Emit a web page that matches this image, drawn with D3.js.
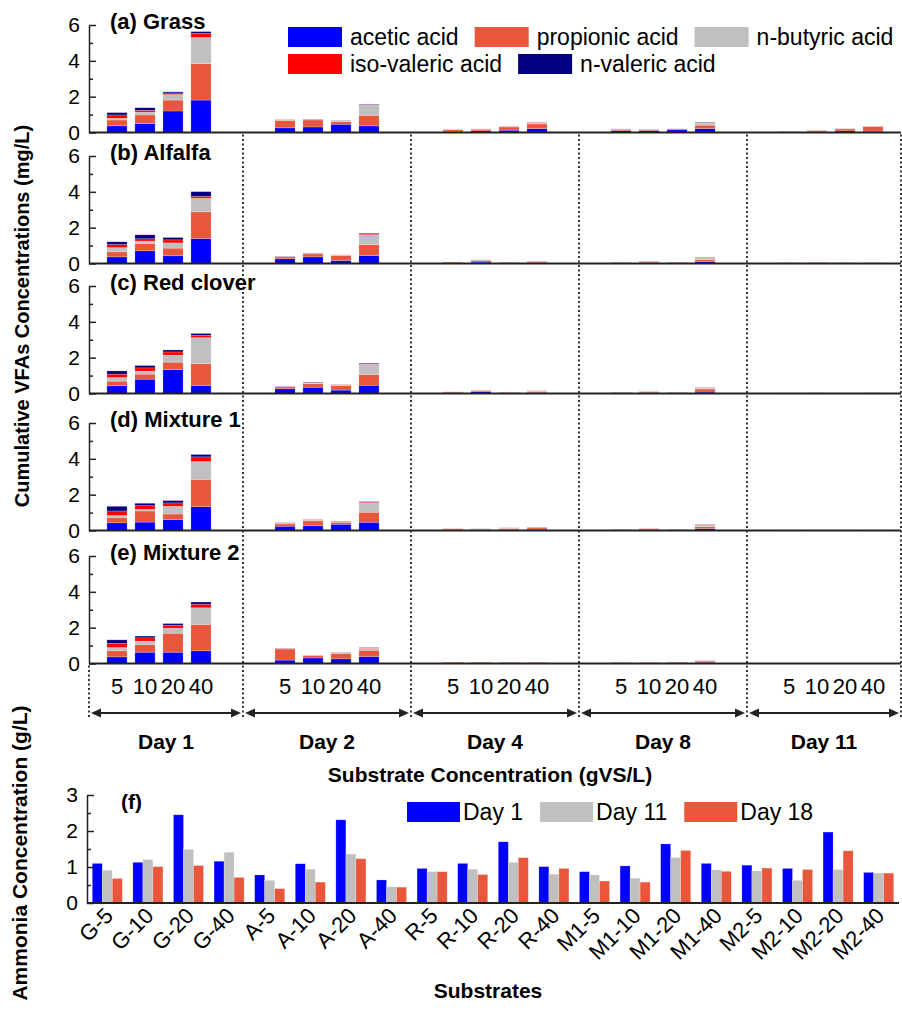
<!DOCTYPE html>
<html lang="en">
<head>
    <meta charset="UTF-8">
    <title>Cumulative VFAs and Ammonia</title>
    <script src="https://d3js.org/d3.v7.min.js"></script>
    <style>
        body {
            margin: 0;
            padding: 0;
            background-color: #ffffff;
        }
        svg text {
            font-family: 'Liberation Sans', Arial, sans-serif;
            fill: #000;
        }
        .axis path, .axis line {
            stroke: #222;
            stroke-width: 1.5;
        }
        .axis text {
            font-size: 21px;
        }
        .bold {
            font-weight: bold;
        }
    </style>
</head>
<body>
    <div id="chart"></div>

    <script>
        // categories
        const days = ['Day 1', 'Day 2', 'Day 4', 'Day 8', 'Day 11'];
        const loads = ['5', '10', '20', '40'];
        const acids = ['acetic acid', 'propionic acid', 'n-butyric acid', 'iso-valeric acid', 'n-valeric acid'];
        const acidColors = ['#0000ff', '#e8573c', '#c0c0c0', '#ff0000', '#000080'];
        const panelTitles = ['(a) Grass', '(b) Alfalfa', '(c) Red clover', '(d) Mixture 1', '(e) Mixture 2'];

        // VFA values (mg/L), per acid: Day1 x4, Day2 x4, Day4 x4, Day8 x4, Day11 x4
        const grass = [
            [0.37, 0.50, 1.20, 1.81, 0.26, 0.31, 0.46, 0.37, 0.07, 0.09, 0.13, 0.22, 0.11, 0.11, 0.15, 0.22, 0.01, 0.05, 0.09, 0.07],
            [0.33, 0.48, 0.61, 2.03, 0.40, 0.39, 0.15, 0.59, 0.08, 0.09, 0.18, 0.26, 0.07, 0.06, 0.06, 0.19, 0.04, 0.07, 0.11, 0.26],
            [0.09, 0.16, 0.31, 1.46, 0.03, 0.03, 0.04, 0.59, 0.01, 0.01, 0.03, 0.06, 0.01, 0.01, 0.01, 0.12, 0.01, 0.01, 0.01, 0.01],
            [0.19, 0.10, 0.09, 0.24, 0.01, 0.01, 0.01, 0.02, 0.01, 0.01, 0.01, 0.02, 0.01, 0.00, 0.00, 0.02, 0.00, 0.00, 0.01, 0.01],
            [0.13, 0.14, 0.06, 0.09, 0.01, 0.01, 0.01, 0.02, 0.00, 0.00, 0.00, 0.01, 0.00, 0.00, 0.00, 0.02, 0.00, 0.00, 0.00, 0.00]
        ];
        const alfalfa = [
            [0.37, 0.71, 0.43, 1.39, 0.26, 0.37, 0.17, 0.44, 0.03, 0.08, 0.02, 0.04, 0.03, 0.05, 0.03, 0.10, 0.01, 0.01, 0.01, 0.01],
            [0.28, 0.41, 0.43, 1.49, 0.11, 0.17, 0.28, 0.61, 0.05, 0.08, 0.04, 0.07, 0.03, 0.06, 0.04, 0.12, 0.03, 0.04, 0.03, 0.03],
            [0.24, 0.13, 0.29, 0.76, 0.02, 0.03, 0.02, 0.56, 0.01, 0.02, 0.01, 0.01, 0.01, 0.01, 0.01, 0.10, 0.00, 0.00, 0.00, 0.00],
            [0.17, 0.13, 0.17, 0.11, 0.01, 0.01, 0.01, 0.04, 0.00, 0.01, 0.00, 0.01, 0.00, 0.01, 0.00, 0.02, 0.00, 0.00, 0.00, 0.00],
            [0.15, 0.22, 0.13, 0.26, 0.01, 0.01, 0.00, 0.04, 0.00, 0.01, 0.00, 0.00, 0.00, 0.00, 0.00, 0.01, 0.00, 0.00, 0.00, 0.00]
        ];
        const redClover = [
            [0.43, 0.80, 1.34, 0.45, 0.26, 0.35, 0.19, 0.46, 0.04, 0.10, 0.02, 0.05, 0.03, 0.05, 0.03, 0.08, 0.01, 0.01, 0.01, 0.01],
            [0.26, 0.28, 0.41, 1.22, 0.11, 0.20, 0.26, 0.60, 0.05, 0.06, 0.04, 0.07, 0.03, 0.05, 0.03, 0.17, 0.02, 0.03, 0.02, 0.03],
            [0.20, 0.17, 0.39, 1.45, 0.02, 0.04, 0.03, 0.57, 0.01, 0.02, 0.01, 0.02, 0.01, 0.01, 0.01, 0.06, 0.00, 0.00, 0.00, 0.00],
            [0.19, 0.18, 0.18, 0.13, 0.01, 0.02, 0.01, 0.04, 0.00, 0.01, 0.00, 0.01, 0.00, 0.01, 0.00, 0.01, 0.00, 0.00, 0.00, 0.00],
            [0.18, 0.13, 0.11, 0.10, 0.01, 0.02, 0.01, 0.03, 0.00, 0.00, 0.00, 0.00, 0.00, 0.00, 0.00, 0.01, 0.00, 0.00, 0.00, 0.00]
        ];
        const mixture1 = [
            [0.43, 0.47, 0.60, 1.33, 0.24, 0.26, 0.35, 0.46, 0.04, 0.03, 0.05, 0.07, 0.03, 0.05, 0.03, 0.10, 0.01, 0.01, 0.01, 0.01],
            [0.30, 0.62, 0.32, 1.52, 0.13, 0.28, 0.11, 0.56, 0.05, 0.04, 0.07, 0.08, 0.03, 0.05, 0.03, 0.12, 0.02, 0.02, 0.02, 0.02],
            [0.11, 0.09, 0.43, 1.00, 0.04, 0.04, 0.03, 0.52, 0.01, 0.01, 0.02, 0.02, 0.01, 0.01, 0.01, 0.10, 0.00, 0.00, 0.00, 0.00],
            [0.25, 0.21, 0.19, 0.26, 0.02, 0.02, 0.02, 0.04, 0.01, 0.00, 0.01, 0.01, 0.00, 0.01, 0.00, 0.02, 0.00, 0.00, 0.00, 0.00],
            [0.26, 0.13, 0.13, 0.13, 0.01, 0.01, 0.01, 0.03, 0.00, 0.01, 0.00, 0.01, 0.00, 0.00, 0.00, 0.01, 0.00, 0.00, 0.00, 0.00]
        ];
        const mixture2 = [
            [0.37, 0.63, 0.63, 0.71, 0.19, 0.31, 0.26, 0.39, 0.03, 0.03, 0.03, 0.03, 0.03, 0.03, 0.04, 0.07, 0.01, 0.01, 0.01, 0.01],
            [0.34, 0.43, 1.06, 1.47, 0.62, 0.13, 0.31, 0.35, 0.04, 0.04, 0.04, 0.04, 0.03, 0.03, 0.04, 0.06, 0.01, 0.01, 0.01, 0.01],
            [0.18, 0.19, 0.28, 0.93, 0.02, 0.01, 0.02, 0.11, 0.00, 0.00, 0.01, 0.01, 0.01, 0.01, 0.01, 0.03, 0.00, 0.00, 0.00, 0.00],
            [0.23, 0.18, 0.17, 0.20, 0.01, 0.01, 0.01, 0.02, 0.00, 0.00, 0.00, 0.00, 0.00, 0.00, 0.00, 0.01, 0.00, 0.00, 0.00, 0.00],
            [0.20, 0.10, 0.09, 0.12, 0.01, 0.00, 0.01, 0.02, 0.00, 0.00, 0.00, 0.00, 0.00, 0.00, 0.00, 0.00, 0.00, 0.00, 0.00, 0.00]
        ];
        const panelData = [grass, alfalfa, redClover, mixture1, mixture2];

        // ammonia (g/L)
        const substrates = ['G-5', 'G-10', 'G-20', 'G-40', 'A-5', 'A-10', 'A-20', 'A-40', 'R-5', 'R-10',
            'R-20', 'R-40', 'M1-5', 'M1-10', 'M1-20', 'M1-40', 'M2-5', 'M2-10', 'M2-20', 'M2-40'];
        const ammoniaDays = ['Day 1', 'Day 11', 'Day 18'];
        const ammoniaColors = ['#0000ff', '#c0c0c0', '#e8573c'];
        const nh3Day1 = [1.10, 1.13, 2.45, 1.16, 0.78, 1.09, 2.31, 0.64, 0.96, 1.10, 1.70, 1.01, 0.87, 1.03, 1.64, 1.10, 1.05, 0.96, 1.97, 0.85];
        const nh3Day11 = [0.91, 1.21, 1.49, 1.41, 0.63, 0.94, 1.36, 0.45, 0.87, 0.94, 1.13, 0.80, 0.78, 0.69, 1.26, 0.92, 0.89, 0.63, 0.93, 0.83];
        const nh3Day18 = [0.68, 1.01, 1.04, 0.71, 0.40, 0.58, 1.23, 0.44, 0.87, 0.79, 1.26, 0.96, 0.61, 0.58, 1.46, 0.88, 0.97, 0.93, 1.45, 0.83];
        const nh3 = [nh3Day1, nh3Day11, nh3Day18];

        const W = 902, H = 1016;
        const svg = d3.select('#chart').append('svg')
            .attr('width', W)
            .attr('height', H);

        // one slot per bar, 6 slots per day (4 bars + gap)
        const x = d3.scaleLinear().domain([-1, 28]).range([89, 901]);
        const slot = (d, j) => d * 6 + j;
        const barW = (x(1) - x(0)) * 0.72;
        const bounds = [-1, 4.5, 10.5, 16.5, 22.5, 28];

        const panelTop = [25, 156, 286, 423, 556];
        const panelH = 107.5;

        const stack = d3.stack().keys(d3.range(acids.length));

        panelData.forEach((data, p) => {
            const y = d3.scaleLinear().domain([0, 6]).range([panelTop[p] + panelH, panelTop[p]]);
            const g = svg.append('g');

            const rows = d3.range(20).map(i => data.map(a => a[i]));
            const series = stack(rows);

            g.selectAll('g.layer')
                .data(series)
                .join('g')
                .attr('class', 'layer')
                .attr('fill', (s, i) => acidColors[i])
                .selectAll('rect')
                .data(s => s.map((v, i) => ({ v, i })))
                .join('rect')
                .attr('x', d => x(slot(Math.floor(d.i / 4), d.i % 4)) - barW / 2)
                .attr('width', barW)
                .attr('y', d => y(d.v[1]))
                .attr('height', d => Math.max(0, y(d.v[0]) - y(d.v[1])))
                .attr('stroke', '#ffffff')
                .attr('stroke-opacity', 0.35)
                .attr('stroke-width', 0.6);

            // y axis, ticks inward
            g.append('g')
                .attr('class', 'axis')
                .attr('transform', `translate(${x(-1)},0)`)
                .call(d3.axisLeft(y).tickValues([0, 2, 4, 6]).tickFormat(d3.format('d'))
                    .tickSizeInner(-7).tickSizeOuter(0).tickPadding(9));
            g.append('g')
                .attr('class', 'axis')
                .attr('transform', `translate(${x(-1)},0)`)
                .call(d3.axisLeft(y).tickValues([1, 3, 5]).tickSizeInner(-4).tickSizeOuter(0).tickFormat(''))
                .select('.domain').remove();

            g.append('line')
                .attr('x1', x(-1)).attr('x2', x(28))
                .attr('y1', y(0)).attr('y2', y(0))
                .attr('stroke', '#222').attr('stroke-width', 2);

            g.append('text')
                .attr('class', 'bold')
                .attr('x', 110)
                .attr('y', y(6) + 4)
                .attr('font-size', 22)
                .text(panelTitles[p]);
        });

        // dotted day separators
        const sepTop = panelTop[0] + panelH + 2;
        const arrowY = 713;
        bounds.forEach((b, i) => {
            svg.append('line')
                .attr('x1', x(b)).attr('x2', x(b))
                .attr('y1', i === 0 ? panelTop[4] + panelH + 2 : sepTop)
                .attr('y2', arrowY + 4)
                .attr('stroke', '#222')
                .attr('stroke-width', 1.8)
                .attr('stroke-dasharray', '2,2.5');
        });

        // concentration labels under each day
        days.forEach((day, d) => {
            loads.forEach((l, j) => {
                svg.append('text')
                    .attr('x', x(slot(d, j)))
                    .attr('y', 694)
                    .attr('text-anchor', 'middle')
                    .attr('font-size', 22)
                    .text(l);
            });
            const x0 = x(bounds[d]) + 2, x1 = x(bounds[d + 1]) - 2;
            svg.append('line')
                .attr('x1', x0 + 8).attr('x2', x1 - 8)
                .attr('y1', arrowY).attr('y2', arrowY)
                .attr('stroke', '#222').attr('stroke-width', 2);
            svg.append('path')
                .attr('d', `M${x0},${arrowY} l10,-4.5 v9 z M${x1},${arrowY} l-10,-4.5 v9 z`)
                .attr('fill', '#222');
            svg.append('text')
                .attr('class', 'bold')
                .attr('x', (x(bounds[d]) + x(bounds[d + 1])) / 2)
                .attr('y', 749)
                .attr('text-anchor', 'middle')
                .attr('font-size', 21)
                .text(day);
        });

        svg.append('text')
            .attr('class', 'bold')
            .attr('x', 490)
            .attr('y', 782)
            .attr('text-anchor', 'middle')
            .attr('font-size', 21)
            .text('Substrate Concentration (gVS/L)');

        svg.append('text')
            .attr('class', 'bold')
            .attr('transform', 'translate(29,316) rotate(-90)')
            .attr('text-anchor', 'middle')
            .attr('font-size', 20)
            .text('Cumulative VFAs  Concentrations (mg/L)');

        // VFA legend (flow layout, two rows)
        const legendRows = [[0, 1, 2], [3, 4]];
        legendRows.forEach((row, r) => {
            let lx = 288;
            const ly = 27 + r * 27;
            row.forEach(k => {
                svg.append('rect')
                    .attr('x', lx).attr('y', ly)
                    .attr('width', 54).attr('height', 20)
                    .attr('fill', acidColors[k]);
                const t = svg.append('text')
                    .attr('x', lx + 62)
                    .attr('y', ly + 18)
                    .attr('font-size', 23)
                    .text(acids[k]);
                lx += 62 + t.node().getComputedTextLength() + 16;
            });
        });

        // (f) ammonia panel
        const xb = d3.scaleBand().domain(substrates).range([87, 899]).paddingInner(0.26).paddingOuter(0.13);
        const xi = d3.scaleBand().domain(d3.range(3)).range([0, xb.bandwidth()]);
        const yf = d3.scaleLinear().domain([0, 3]).range([903, 795]);
        const gf = svg.append('g');

        gf.selectAll('g.grp')
            .data(substrates)
            .join('g')
            .attr('class', 'grp')
            .attr('transform', s => `translate(${xb(s)},0)`)
            .selectAll('rect')
            .data((s, i) => nh3.map((arr, k) => ({ k, v: arr[i] })))
            .join('rect')
            .attr('x', d => xi(d.k))
            .attr('width', xi.bandwidth())
            .attr('y', d => yf(d.v))
            .attr('height', d => yf(0) - yf(d.v))
            .attr('fill', d => ammoniaColors[d.k])
            .attr('stroke', '#ffffff')
            .attr('stroke-opacity', 0.35)
            .attr('stroke-width', 0.6);

        gf.append('g')
            .attr('class', 'axis')
            .attr('transform', 'translate(87,0)')
            .call(d3.axisLeft(yf).tickValues([0, 1, 2, 3]).tickFormat(d3.format('d'))
                .tickSizeInner(-7).tickSizeOuter(0).tickPadding(9));
        gf.append('g')
            .attr('class', 'axis')
            .attr('transform', 'translate(87,0)')
            .call(d3.axisLeft(yf).tickValues([0.5, 1.5, 2.5]).tickSizeInner(-4).tickSizeOuter(0).tickFormat(''))
            .select('.domain').remove();
        gf.append('line')
            .attr('x1', 87).attr('x2', 899)
            .attr('y1', yf(0)).attr('y2', yf(0))
            .attr('stroke', '#222').attr('stroke-width', 2);

        gf.selectAll('text.sub')
            .data(substrates)
            .join('text')
            .attr('class', 'sub')
            .attr('text-anchor', 'end')
            .attr('font-size', 22)
            .attr('transform', s => `translate(${xb(s) + xb.bandwidth() / 2 + 7},${yf(0) + 14}) rotate(-45)`)
            .text(s => s);

        gf.append('text')
            .attr('class', 'bold')
            .attr('x', 121)
            .attr('y', 809)
            .attr('font-size', 21)
            .text('(f)');

        let fx = 407;
        ammoniaDays.forEach((d, k) => {
            gf.append('rect')
                .attr('x', fx).attr('y', 802)
                .attr('width', 53).attr('height', 20)
                .attr('fill', ammoniaColors[k]);
            const t = gf.append('text')
                .attr('x', fx + 56)
                .attr('y', 820)
                .attr('font-size', 23)
                .text(d);
            fx += 56 + t.node().getComputedTextLength() + 17;
        });

        svg.append('text')
            .attr('class', 'bold')
            .attr('x', 488)
            .attr('y', 998)
            .attr('text-anchor', 'middle')
            .attr('font-size', 21)
            .text('Substrates');

        svg.append('text')
            .attr('class', 'bold')
            .attr('transform', 'translate(27,853) rotate(-90)')
            .attr('text-anchor', 'middle')
            .attr('font-size', 21)
            .text('Ammonia Concentration (g/L)');
    </script>
</body>
</html>
